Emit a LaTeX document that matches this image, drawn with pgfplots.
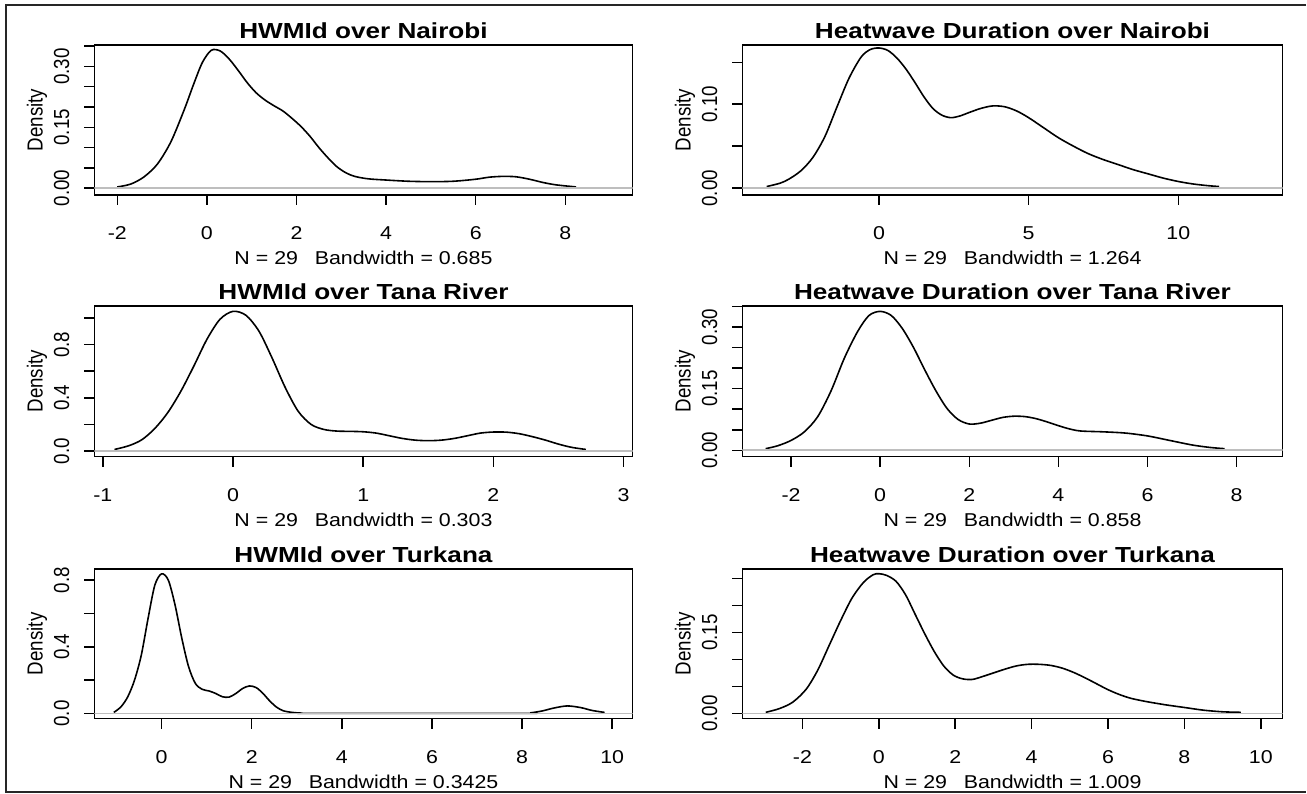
\documentclass[border=0pt]{standalone}
\usepackage{fontspec}
\setmainfont{Liberation Sans}
\newfontfamily\hfont[FakeStretch=1.15]{Liberation Sans}
\newfontfamily\tfont[FakeStretch=1.2]{Liberation Sans}
\newfontfamily\vfont[FakeStretch=0.86]{Liberation Sans}
\usepackage{pgfplots}
\pgfplotsset{compat=1.18}
\definecolor{zgray}{RGB}{190,190,190}
\pgfplotsset{
  rpanel/.style={
    scale only axis, height=150pt,
    axis line style={line width=1.5pt},
    tick style={line width=1.5pt, black},
    tick align=outside, major tick length=10pt,
    xtick pos=bottom, ytick pos=left,
    xticklabel style={font=\hfont\fontsize{18.6pt}{20pt}\selectfont, anchor=base, inner sep=0pt, yshift=-35pt},
    yticklabel style={font=\vfont\fontsize{21.8pt}{22pt}\selectfont, rotate=90, inner sep=0pt},
    yticklabel shift=15pt,
    every axis title/.style={at={(rel axis cs:0.5,1)}, anchor=base, yshift=6pt, font=\tfont\bfseries\fontsize{21.8pt}{23pt}\selectfont},
    every axis x label/.style={at={(rel axis cs:0.5,0)}, anchor=base, yshift=-69.5pt, font=\hfont\fontsize{18.6pt}{20pt}\selectfont},
    every axis y label/.style={at={(rel axis cs:0,0.5)}, xshift=-57.5pt, rotate=90, anchor=center, font=\vfont\fontsize{21.8pt}{22pt}\selectfont},
    ylabel={Density},
  },
  curve/.style={black, line width=1.6pt, smooth, tension=0.5},
  zline/.style={zgray, line width=1.8pt},
}
\begin{document}
\begin{tikzpicture}
\path (0pt,0pt) rectangle (1307pt,794pt);
\draw[line width=2pt, black!85] (1307pt,788.5pt) -- (6.5pt,788.5pt) -- (6.5pt,0.5pt);
\draw[line width=2pt, black!85] (6.5pt,1.5pt) -- (1307pt,1.5pt);

% ---------- HWMId Nairobi
\begin{axis}[rpanel, at={(94.5pt,599pt)}, anchor=south west, width=538.5pt,
  xmin=-2.51, xmax=9.5, ymin=-0.0165, ymax=0.353,
  xtick={-2,0,2,4,6,8}, xticklabels={-2,0,2,4,6,8},
  ytick={0,0.05,0.10,0.15,0.20,0.25,0.30,0.35}, yticklabels={0.00,,,0.15,,,0.30,},
  title={HWMId over Nairobi}, xlabel={N = 29\hspace{0.9em}Bandwidth = 0.685}]
\addplot[curve] coordinates {(-2.0,0.003) (-1.7,0.010) (-1.4,0.028) (-1.1,0.060) (-0.8,0.115) (-0.5,0.195) (-0.3,0.255) (-0.1,0.310) (0.1,0.340) (0.3,0.338) (0.5,0.318) (0.7,0.290) (0.9,0.260) (1.1,0.235) (1.3,0.217) (1.5,0.203) (1.7,0.190) (1.9,0.172) (2.1,0.152) (2.3,0.128) (2.5,0.100) (2.7,0.075) (2.9,0.053) (3.1,0.038) (3.3,0.029) (3.6,0.023) (4.0,0.020) (4.5,0.017) (5.0,0.016) (5.5,0.017) (6.0,0.022) (6.3,0.027) (6.6,0.029) (6.9,0.028) (7.2,0.022) (7.5,0.014) (7.8,0.008) (8.24,0.003)};
\addplot[zline] coordinates {(-2.51,0) (9.5,0)};
\end{axis}

% ---------- Heatwave Duration Nairobi
\begin{axis}[rpanel, at={(743pt,599pt)}, anchor=south west, width=540.5pt,
  xmin=-4.56, xmax=13.48, ymin=-0.0079, ymax=0.1706,
  xtick={0,5,10}, xticklabels={0,5,10},
  ytick={0,0.05,0.10,0.15}, yticklabels={0.00,,0.10,},
  title={Heatwave Duration over Nairobi}, xlabel={N = 29\hspace{0.9em}Bandwidth = 1.264}]
\addplot[curve] coordinates {(-3.75,0.002) (-3.3,0.006) (-3.0,0.011) (-2.6,0.021) (-2.2,0.037) (-1.8,0.062) (-1.4,0.097) (-1.0,0.131) (-0.6,0.156) (-0.3,0.165) (0,0.167) (0.3,0.164) (0.6,0.155) (0.9,0.142) (1.2,0.126) (1.5,0.109) (1.8,0.095) (2.1,0.087) (2.4,0.084) (2.7,0.086) (3.0,0.090) (3.4,0.095) (3.8,0.098) (4.2,0.097) (4.6,0.092) (5.0,0.084) (5.5,0.072) (6.0,0.060) (6.5,0.050) (7.0,0.041) (7.5,0.034) (8.0,0.028) (8.5,0.022) (9.0,0.017) (9.5,0.012) (10.0,0.008) (10.5,0.005) (11.0,0.003) (11.36,0.002)};
\addplot[zline] coordinates {(-4.56,0) (13.48,0)};
\end{axis}

% ---------- HWMId Tana River
\begin{axis}[rpanel, at={(94.5pt,337pt)}, anchor=south west, width=538.5pt, height=151pt,
  xmin=-1.064, xmax=3.068, ymin=-0.042, ymax=1.092,
  xtick={-1,0,1,2,3}, xticklabels={-1,0,1,2,3},
  ytick={0,0.2,0.4,0.6,0.8,1.0}, yticklabels={0.0,,0.4,,0.8,},
  title={HWMId over Tana River}, xlabel={N = 29\hspace{0.9em}Bandwidth = 0.303}]
\addplot[curve] coordinates {(-0.91,0.012) (-0.8,0.04) (-0.7,0.085) (-0.6,0.17) (-0.5,0.29) (-0.4,0.45) (-0.3,0.64) (-0.2,0.84) (-0.1,0.99) (0,1.05) (0.1,1.02) (0.2,0.90) (0.3,0.70) (0.4,0.48) (0.5,0.30) (0.6,0.20) (0.7,0.162) (0.8,0.150) (0.9,0.148) (1.0,0.145) (1.1,0.135) (1.2,0.115) (1.3,0.095) (1.4,0.082) (1.5,0.078) (1.6,0.082) (1.7,0.095) (1.8,0.115) (1.9,0.135) (2.0,0.143) (2.1,0.142) (2.2,0.130) (2.3,0.108) (2.4,0.082) (2.5,0.052) (2.6,0.028) (2.71,0.012)};
\addplot[zline] coordinates {(-1.064,0) (3.068,0)};
\end{axis}

% ---------- Heatwave Duration Tana River
\begin{axis}[rpanel, at={(743pt,337pt)}, anchor=south west, width=540.5pt, height=151pt,
  xmin=-3.09, xmax=9.03, ymin=-0.0154, ymax=0.3517,
  xtick={-2,0,2,4,6,8}, xticklabels={-2,0,2,4,6,8},
  ytick={0,0.05,0.10,0.15,0.20,0.25,0.30,0.35}, yticklabels={0.00,,,0.15,,,0.30,},
  title={Heatwave Duration over Tana River}, xlabel={N = 29\hspace{0.9em}Bandwidth = 0.858}]
\addplot[curve] coordinates {(-2.57,0.004) (-2.3,0.011) (-2.0,0.024) (-1.7,0.045) (-1.4,0.082) (-1.1,0.145) (-0.8,0.225) (-0.5,0.290) (-0.25,0.328) (0,0.338) (0.25,0.328) (0.5,0.296) (0.75,0.250) (1.0,0.196) (1.25,0.145) (1.5,0.102) (1.75,0.075) (2.0,0.064) (2.25,0.066) (2.5,0.073) (2.75,0.080) (3.0,0.083) (3.25,0.082) (3.5,0.077) (3.75,0.069) (4.0,0.060) (4.25,0.052) (4.5,0.047) (5.0,0.045) (5.5,0.042) (6.0,0.035) (6.5,0.024) (7.0,0.013) (7.4,0.007) (7.73,0.004)};
\addplot[zline] coordinates {(-3.09,0) (9.03,0)};
\end{axis}

% ---------- HWMId Turkana
\begin{axis}[rpanel, at={(94.5pt,74.7pt)}, anchor=south west, width=538.5pt,
  xmin=-1.49, xmax=10.45, ymin=-0.032, ymax=0.868,
  xtick={0,2,4,6,8,10}, xticklabels={0,2,4,6,8,10},
  ytick={0,0.2,0.4,0.6,0.8}, yticklabels={0.0,,0.4,,0.8},
  title={HWMId over Turkana}, xlabel={N = 29\hspace{0.9em}Bandwidth = 0.3425}]
\addplot[curve] coordinates {(-1.06,0.006) (-0.9,0.04) (-0.75,0.10) (-0.6,0.20) (-0.45,0.35) (-0.3,0.57) (-0.15,0.77) (0,0.838) (0.15,0.80) (0.3,0.65) (0.45,0.45) (0.6,0.28) (0.75,0.18) (0.9,0.145) (1.05,0.135) (1.2,0.12) (1.35,0.10) (1.5,0.098) (1.65,0.12) (1.8,0.15) (1.95,0.165) (2.1,0.155) (2.25,0.12) (2.4,0.075) (2.55,0.038) (2.7,0.016) (2.9,0.006) (3.1,0.002) (3.4,0.0005) (8.0,0.0005) (8.2,0.004) (8.45,0.015) (8.7,0.032) (9.0,0.045) (9.3,0.035) (9.55,0.018) (9.83,0.006)};
\addplot[zline] coordinates {(-1.49,0) (10.45,0)};
\end{axis}

% ---------- Heatwave Duration Turkana
\begin{axis}[rpanel, at={(743pt,74.7pt)}, anchor=south west, width=540.5pt,
  xmin=-3.57, xmax=10.57, ymin=-0.0099, ymax=0.268,
  xtick={-2,0,2,4,6,8,10}, xticklabels={-2,0,2,4,6,8,10},
  ytick={0,0.05,0.10,0.15,0.20,0.25}, yticklabels={0.00,,,0.15,,},
  title={Heatwave Duration over Turkana}, xlabel={N = 29\hspace{0.9em}Bandwidth = 1.009}]
\addplot[curve] coordinates {(-2.96,0.002) (-2.6,0.009) (-2.25,0.021) (-1.9,0.045) (-1.6,0.080) (-1.3,0.126) (-1.0,0.172) (-0.7,0.214) (-0.4,0.243) (-0.15,0.257) (0,0.259) (0.2,0.256) (0.45,0.245) (0.7,0.220) (0.95,0.184) (1.2,0.148) (1.45,0.115) (1.7,0.088) (1.95,0.071) (2.2,0.064) (2.45,0.063) (2.7,0.068) (3.0,0.075) (3.3,0.082) (3.6,0.088) (3.9,0.091) (4.2,0.091) (4.5,0.089) (4.8,0.084) (5.1,0.076) (5.4,0.066) (5.7,0.055) (6.0,0.044) (6.3,0.035) (6.6,0.028) (7.0,0.022) (7.5,0.016) (8.0,0.011) (8.5,0.006) (9.0,0.003) (9.48,0.002)};
\addplot[zline] coordinates {(-3.57,0) (10.57,0)};
\end{axis}
\end{tikzpicture}
\end{document}
